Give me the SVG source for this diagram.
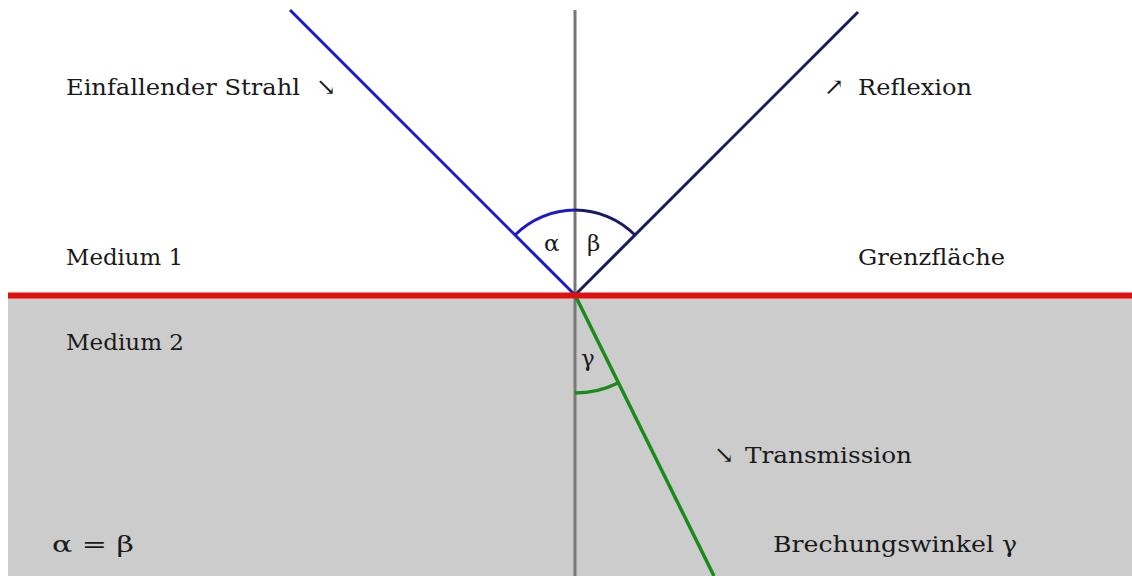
<svg xmlns="http://www.w3.org/2000/svg" width="1132" height="576" viewBox="0 0 1132 576">
<style>
text{font-family:"DejaVu Serif","Liberation Serif",serif;font-size:23px;fill:#1a1a1a}
.g{font-size:23px}
.a{font-size:24px}
</style>
<rect x="0" y="0" width="1132" height="576" fill="#fff"/>
<g id="medium2"><rect x="8" y="296" width="1124" height="280" fill="#cccccc"/></g>
<g id="connectors" fill="none" stroke-width="3">
<line id="normal" x1="575" y1="10" x2="575" y2="576" stroke="#777777"/>
<line id="incident" x1="290" y1="10" x2="575" y2="295" stroke="#1a1acc"/>
<line id="reflection" x1="575" y1="295" x2="858" y2="12" stroke="#1a1a66"/>
<line id="transmission" x1="575" y1="295" x2="714" y2="576" stroke="#1a8a1a" stroke-width="3.5"/>
<path id="arcAlpha" d="M515,235 A85,85 0 0 1 575,210" stroke="#1a1acc"/>
<path id="arcBeta" d="M575,210 A85,85 0 0 1 635,235" stroke="#1a1a66"/>
<path id="arcGamma" d="M575,393 A98,98 0 0 0 618,383" stroke="#1a8a1a" stroke-width="3.5"/>
<line id="interface" x1="8" y1="295.5" x2="1132" y2="295.5" stroke="#e01010" stroke-width="6"/>
</g>
<g id="lbl-incident"><text x="66" y="95" textLength="234" lengthAdjust="spacingAndGlyphs">Einfallender Strahl</text><text x="316" y="95" class="a">↘</text></g>
<g id="lbl-reflexion"><text x="824" y="95" class="a">↗</text><text x="858" y="95" textLength="114" lengthAdjust="spacingAndGlyphs">Reflexion</text></g>
<g id="lbl-medium1"><text x="66" y="265" textLength="117" lengthAdjust="spacingAndGlyphs">Medium 1</text></g>
<g id="lbl-grenz"><text x="858" y="265" textLength="147" lengthAdjust="spacingAndGlyphs">Grenzfläche</text></g>
<g id="lbl-medium2"><text x="66" y="350" textLength="118" lengthAdjust="spacingAndGlyphs">Medium 2</text></g>
<g id="lbl-alpha"><text x="544" y="251" class="g">α</text></g>
<g id="lbl-beta"><text x="587" y="251" class="g">β</text></g>
<g id="lbl-gamma"><text x="581" y="366" class="g">γ</text></g>
<g id="lbl-trans"><text x="714" y="463" class="a">↘</text><text x="745" y="463" textLength="167" lengthAdjust="spacingAndGlyphs">Transmission</text></g>
<g id="lbl-eq"><text x="52" y="552" textLength="82" lengthAdjust="spacingAndGlyphs">α = β</text></g>
<g id="lbl-brech"><text x="773" y="552" textLength="244" lengthAdjust="spacingAndGlyphs">Brechungswinkel γ</text></g>
</svg>
